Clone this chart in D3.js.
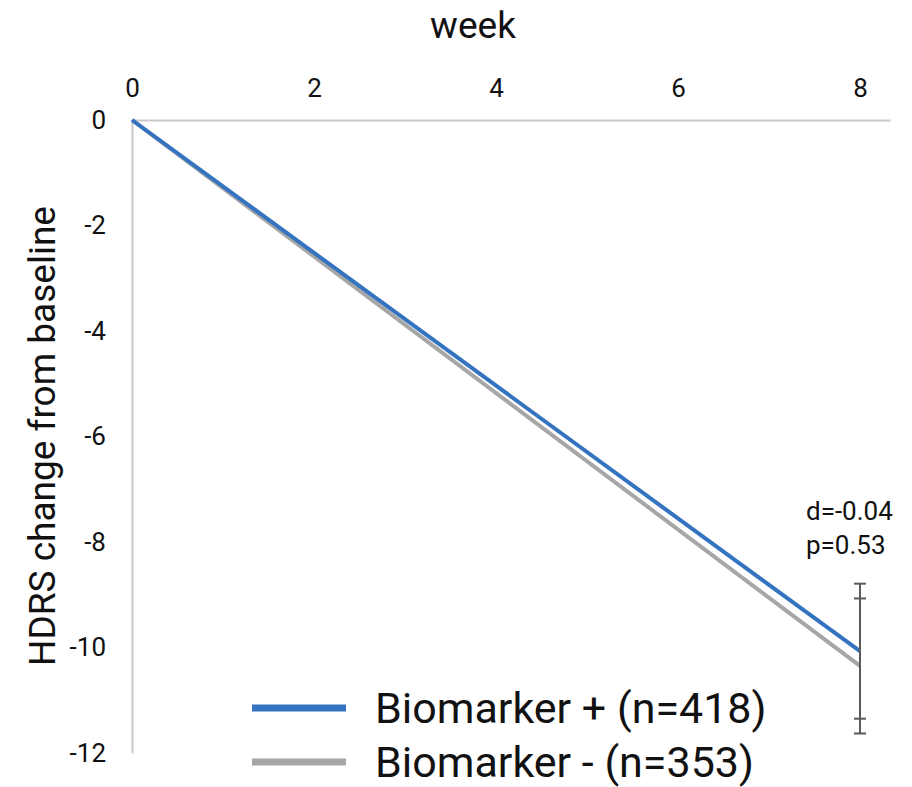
<!DOCTYPE html>
<html>
<head>
<meta charset="utf-8">
<script src="https://cdn.jsdelivr.net/npm/d3@7"></script>
<style>
  body{margin:0;background:#fff;}
  text{font-family:Roboto, "Noto Sans", sans-serif;fill:#111;}
</style>
</head>
<body>
<svg id="chart"></svg>
<script>
const width = 912, height = 787;
// data
const weeks = [0, 8];
const seriesNames = ["Biomarker + (n=418)", "Biomarker - (n=353)"];
const seriesColors = ["#3473bf", "#a6a6a6"];
const posValues = [0, -10.07];
const negValues = [0, -10.35];
const errHalf = [1.28, 1.28];
const xTicks = [0, 2, 4, 6, 8];
const yTicks = [0, -2, -4, -6, -8, -10, -12];
const note = ["d=-0.04", "p=0.53"];

const svg = d3.select('#chart').attr('width', width).attr('height', height);

const x = d3.scaleLinear().domain([0, 8.33]).range([132, 890]);
const y = d3.scaleLinear().domain([0, -12]).range([120, 753]);

// axes, hyphen instead of unicode minus like the original
const fmt = d=>String(d);
const xAxis = svg.append('g').attr('transform', `translate(0,${y(0)})`)
  .call(d3.axisTop(x).tickValues(xTicks).tickFormat(fmt).tickSize(0).tickPadding(23));
const yAxis = svg.append('g').attr('transform', `translate(${x(0)},0)`)
  .call(d3.axisLeft(y).tickValues(yTicks).tickFormat(fmt).tickSize(0).tickPadding(26));
[xAxis, yAxis].forEach(a=>{
  a.select('.domain').attr('stroke', '#c9c9c9').attr('stroke-width', 2);
  a.selectAll('text').style('font-size', '26px').attr('fill', '#111');
});

svg.append('text').attr('x', 473).attr('y', 38).attr('text-anchor', 'middle')
  .style('font-size', '37px').text('week');
svg.append('text').attr('transform', 'translate(55,436) rotate(-90)')
  .attr('text-anchor', 'middle').style('font-size', '37px').text('HDRS change from baseline');

// lines
const series = [negValues, posValues];
const cols = [seriesColors[1], seriesColors[0]];
const line = d3.line().x((d, i)=>x(weeks[i])).y(d=>y(d));
series.forEach((s, k)=>{
  svg.append('path').datum(s).attr('d', line)
    .attr('fill', 'none').attr('stroke', cols[k]).attr('stroke-width', 4);
});

// error bars at week 8
[posValues, negValues].forEach((s, k)=>{
  const v = s[s.length-1], e = errHalf[k], cx = x(weeks[weeks.length-1]);
  svg.append('line').attr('x1', cx).attr('x2', cx).attr('y1', y(v+e)).attr('y2', y(v-e))
    .attr('stroke', '#595959').attr('stroke-width', 2);
  [v+e, v-e].forEach(t=>{
    svg.append('line').attr('x1', cx-6).attr('x2', cx+6).attr('y1', y(t)).attr('y2', y(t))
      .attr('stroke', '#595959').attr('stroke-width', 2);
  });
});

svg.selectAll('.note').data(note).join('text').attr('class', 'note')
  .attr('x', 806).attr('y', (d, i)=>520 + i*34).style('font-size', '26px').text(d=>d);

// legend
seriesNames.forEach((n, i)=>{
  const ly = 708 + i*54;
  svg.append('line').attr('x1', 252).attr('x2', 346).attr('y1', ly).attr('y2', ly)
    .attr('stroke', seriesColors[i]).attr('stroke-width', 7);
  svg.append('text').attr('x', 375).attr('y', ly + 15).style('font-size', '43px').text(n);
});
</script>
</body>
</html>
